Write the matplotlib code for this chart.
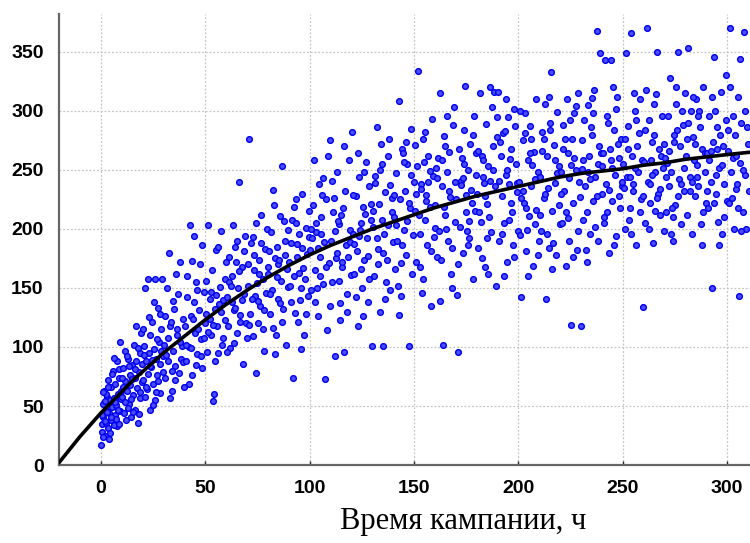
import matplotlib
matplotlib.use("Agg")
import matplotlib.pyplot as plt

# кривая модели
curve_h = [-20, -15, -10, -5, 0, 5, 10, 15, 20, 25, 30, 40, 50, 60, 70, 80, 90, 100, 110, 120,
           130, 140, 150, 160, 170, 180, 190, 200, 210, 220, 230, 240, 250, 260, 270, 280, 290, 300, 311]
curve_v = [2, 13, 24, 34, 44, 53, 62, 71, 79, 87, 95, 109, 123, 136, 148, 159, 169, 178, 186, 193,
           200, 206, 212, 218, 223, 228, 232, 236, 240, 244, 247, 249, 251, 254, 256, 259, 261, 263, 265]

# наблюдения: время кампании, ч (по 10 на строку)
hours = [
    0.2, 0.5, 0.8, 1.0, 1.3, 1.6, 2.0, 2.3, 2.6, 3.0,
    3.3, 3.6, 4.0, 4.3, 4.6, 5.0, 5.3, 5.6, 6.0, 6.3,
    6.6, 7.0, 7.3, 7.6, 8.0, 8.3, 8.6, 9.0, 9.3, 9.6,
    0.4, 1.1, 1.8, 2.5, 3.2, 3.9, 4.7, 5.4, 6.1, 6.8,
    7.5, 8.2, 8.9, 9.6, 0.9, 2.1, 3.5, 4.9, 6.5, 8.7,
    10.2, 10.6, 11.0, 11.4, 11.8, 12.2, 12.6, 13.0, 13.4, 13.8,
    14.2, 14.6, 15.0, 15.4, 15.8, 16.2, 16.6, 17.0, 17.4, 17.8,
    18.2, 18.6, 19.0, 19.4, 19.8, 10.8, 12.9, 14.9, 16.9, 18.9,
    11.6, 13.6, 15.6, 17.6, 19.6, 10.4, 12.4, 14.4, 16.4, 18.4,
    20.2, 20.6, 21.0, 21.4, 21.8, 22.2, 22.6, 23.0, 23.4, 23.8,
    24.2, 24.6, 25.0, 25.4, 25.8, 26.2, 26.6, 27.0, 27.4, 27.8,
    28.2, 28.6, 29.0, 29.4, 29.8, 20.9, 22.9, 24.9, 26.9, 28.9,
    21.6, 23.6, 25.6, 27.6, 29.6, 20.4, 22.4, 24.4, 26.4, 28.4,
    30.3, 30.9, 31.5, 32.1, 32.7, 33.3, 33.9, 34.5, 35.1, 35.7,
    36.3, 36.9, 37.5, 38.1, 38.7, 39.3, 39.9, 31.2, 33.0, 34.8,
    36.6, 38.4, 30.6, 32.4, 34.2, 36.0, 37.8, 39.6, 35.4, 33.6,
    40.3, 40.9, 41.5, 42.1, 42.7, 43.3, 43.9, 44.5, 45.1, 45.7,
    46.3, 46.9, 47.5, 48.1, 48.7, 49.3, 49.9, 41.2, 43.0, 44.8,
    46.6, 48.4, 40.6, 42.4, 44.2, 46.0, 47.8, 49.6, 45.4, 43.6,
    50.3, 50.9, 51.5, 52.1, 52.7, 53.3, 53.9, 54.5, 55.1, 55.7,
    56.3, 56.9, 57.5, 58.1, 58.7, 59.3, 59.9, 51.2, 53.0, 54.8,
    56.6, 58.4, 50.6, 52.4, 54.2, 56.0, 57.8, 59.6, 55.4, 53.6,
    60.3, 60.9, 61.5, 62.1, 62.7, 63.3, 63.9, 64.5, 65.1, 65.7,
    66.3, 66.9, 67.5, 68.1, 68.7, 69.3, 69.9, 61.2, 63.0, 64.8,
    66.6, 68.4, 60.6, 62.4, 64.2, 66.0, 67.8, 69.6, 65.4, 63.6,
    70.3, 70.9, 71.5, 72.1, 72.7, 73.3, 73.9, 74.5, 75.1, 75.7,
    76.3, 76.9, 77.5, 78.1, 78.7, 79.3, 79.9, 71.2, 73.0, 74.8,
    76.6, 78.4, 70.6, 72.4, 74.2, 76.0, 77.8, 79.6, 75.4, 73.6,
    80.3, 80.9, 81.5, 82.1, 82.7, 83.3, 83.9, 84.5, 85.1, 85.7,
    86.3, 86.9, 87.5, 88.1, 88.7, 89.3, 89.9, 81.2, 83.0, 84.8,
    86.6, 88.4, 80.6, 82.4, 84.2, 86.0, 87.8, 89.6, 85.4, 83.6,
    90.3, 90.9, 91.5, 92.1, 92.7, 93.3, 93.9, 94.5, 95.1, 95.7,
    96.3, 96.9, 97.5, 98.1, 98.7, 99.3, 99.9, 91.2, 93.0, 94.8,
    96.6, 98.4, 90.6, 92.4, 94.2, 96.0, 97.8, 99.6, 95.4, 93.6,
    100.3, 100.9, 101.5, 102.1, 102.7, 103.3, 103.9, 104.5, 105.1, 105.7,
    106.3, 106.9, 107.5, 108.1, 108.7, 109.3, 109.9, 101.2, 103.0, 104.8,
    106.6, 108.4, 100.6, 102.4, 104.2, 106.0, 107.8, 109.6, 105.4, 103.6,
    110.3, 110.9, 111.5, 112.1, 112.7, 113.3, 113.9, 114.5, 115.1, 115.7,
    116.3, 116.9, 117.5, 118.1, 118.7, 119.3, 119.9, 111.2, 113.0, 114.8,
    116.6, 118.4, 110.6, 112.4, 114.2, 116.0, 117.8, 119.6, 115.4, 113.6,
    120.3, 120.9, 121.5, 122.1, 122.7, 123.3, 123.9, 124.5, 125.1, 125.7,
    126.3, 126.9, 127.5, 128.1, 128.7, 129.3, 129.9, 121.2, 123.0, 124.8,
    126.6, 128.4, 120.6, 122.4, 124.2, 126.0, 127.8, 129.6, 125.4, 123.6,
    130.3, 130.9, 131.5, 132.1, 132.7, 133.3, 133.9, 134.5, 135.1, 135.7,
    136.3, 136.9, 137.5, 138.1, 138.7, 139.3, 139.9, 131.2, 133.0, 134.8,
    136.6, 138.4, 130.6, 132.4, 134.2, 136.0, 137.8, 139.6, 135.4, 133.6,
    140.3, 140.9, 141.5, 142.1, 142.7, 143.3, 143.9, 144.5, 145.1, 145.7,
    146.3, 146.9, 147.5, 148.1, 148.7, 149.3, 149.9, 141.2, 143.0, 144.8,
    146.6, 148.4, 140.6, 142.4, 144.2, 146.0, 147.8, 149.6, 145.4, 143.6,
    150.3, 150.9, 151.5, 152.1, 152.7, 153.3, 153.9, 154.5, 155.1, 155.7,
    156.3, 156.9, 157.5, 158.1, 158.7, 159.3, 159.9, 151.2, 153.0, 154.8,
    156.6, 158.4, 150.6, 152.4, 154.2, 156.0, 157.8, 159.6, 155.4, 153.6,
    160.3, 160.9, 161.5, 162.1, 162.7, 163.3, 163.9, 164.5, 165.1, 165.7,
    166.3, 166.9, 167.5, 168.1, 168.7, 169.3, 169.9, 161.2, 163.0, 164.8,
    166.6, 168.4, 160.6, 162.4, 164.2, 166.0, 167.8, 169.6, 165.4, 163.6,
    170.3, 170.9, 171.5, 172.1, 172.7, 173.3, 173.9, 174.5, 175.1, 175.7,
    176.3, 176.9, 177.5, 178.1, 178.7, 179.3, 179.9, 171.2, 173.0, 174.8,
    176.6, 178.4, 170.6, 172.4, 174.2, 176.0, 177.8, 179.6, 175.4, 173.6,
    180.3, 180.9, 181.5, 182.1, 182.7, 183.3, 183.9, 184.5, 185.1, 185.7,
    186.3, 186.9, 187.5, 188.1, 188.7, 189.3, 189.9, 181.2, 183.0, 184.8,
    186.6, 188.4, 180.6, 182.4, 184.2, 186.0, 187.8, 189.6, 185.4, 183.6,
    190.3, 190.9, 191.5, 192.1, 192.7, 193.3, 193.9, 194.5, 195.1, 195.7,
    196.3, 196.9, 197.5, 198.1, 198.7, 199.3, 199.9, 191.2, 193.0, 194.8,
    196.6, 198.4, 190.6, 192.4, 194.2, 196.0, 197.8, 199.6, 195.4, 193.6,
    200.3, 200.9, 201.5, 202.1, 202.7, 203.3, 203.9, 204.5, 205.1, 205.7,
    206.3, 206.9, 207.5, 208.1, 208.7, 209.3, 209.9, 201.2, 203.0, 204.8,
    206.6, 208.4, 200.6, 202.4, 204.2, 206.0, 207.8, 209.6, 205.4, 203.6,
    210.3, 210.9, 211.5, 212.1, 212.7, 213.3, 213.9, 214.5, 215.1, 215.7,
    216.3, 216.9, 217.5, 218.1, 218.7, 219.3, 219.9, 211.2, 213.0, 214.8,
    216.6, 218.4, 210.6, 212.4, 214.2, 216.0, 217.8, 219.6, 215.4, 213.6,
    220.3, 220.9, 221.5, 222.1, 222.7, 223.3, 223.9, 224.5, 225.1, 225.7,
    226.3, 226.9, 227.5, 228.1, 228.7, 229.3, 229.9, 221.2, 223.0, 224.8,
    226.6, 228.4, 220.6, 222.4, 224.2, 226.0, 227.8, 229.6, 225.4, 223.6,
    230.3, 230.9, 231.5, 232.1, 232.7, 233.3, 233.9, 234.5, 235.1, 235.7,
    236.3, 236.9, 237.5, 238.1, 238.7, 239.3, 239.9, 231.2, 233.0, 234.8,
    236.6, 238.4, 230.6, 232.4, 234.2, 236.0, 237.8, 239.6, 235.4, 233.6,
    240.3, 240.9, 241.5, 242.1, 242.7, 243.3, 243.9, 244.5, 245.1, 245.7,
    246.3, 246.9, 247.5, 248.1, 248.7, 249.3, 249.9, 241.2, 243.0, 244.8,
    246.6, 248.4, 240.6, 242.4, 244.2, 246.0, 247.8, 249.6, 245.4, 243.6,
    250.3, 250.9, 251.5, 252.1, 252.7, 253.3, 253.9, 254.5, 255.1, 255.7,
    256.3, 256.9, 257.5, 258.1, 258.7, 259.3, 259.9, 251.2, 253.0, 254.8,
    256.6, 258.4, 250.6, 252.4, 254.2, 256.0, 257.8, 259.6, 255.4, 253.6,
    260.3, 260.9, 261.5, 262.1, 262.7, 263.3, 263.9, 264.5, 265.1, 265.7,
    266.3, 266.9, 267.5, 268.1, 268.7, 269.3, 269.9, 261.2, 263.0, 264.8,
    266.6, 268.4, 260.6, 262.4, 264.2, 266.0, 267.8, 269.6, 265.4, 263.6,
    270.3, 270.9, 271.5, 272.1, 272.7, 273.3, 273.9, 274.5, 275.1, 275.7,
    276.3, 276.9, 277.5, 278.1, 278.7, 279.3, 279.9, 271.2, 273.0, 274.8,
    276.6, 278.4, 270.6, 272.4, 274.2, 276.0, 277.8, 279.6, 275.4, 273.6,
    280.3, 280.9, 281.5, 282.1, 282.7, 283.3, 283.9, 284.5, 285.1, 285.7,
    286.3, 286.9, 287.5, 288.1, 288.7, 289.3, 289.9, 281.2, 283.0, 284.8,
    286.6, 288.4, 280.6, 282.4, 284.2, 286.0, 287.8, 289.6, 285.4, 283.6,
    290.3, 290.9, 291.5, 292.1, 292.7, 293.3, 293.9, 294.5, 295.1, 295.7,
    296.3, 296.9, 297.5, 298.1, 298.7, 299.3, 299.9, 291.2, 293.0, 294.8,
    296.6, 298.4, 290.6, 292.4, 294.2, 296.0, 297.8, 299.6, 295.4, 293.6,
    300.3, 300.9, 301.5, 302.1, 302.7, 303.3, 303.9, 304.5, 305.1, 305.7,
    306.3, 306.9, 307.5, 308.1, 308.7, 309.3, 309.9, 310.5, 301.2, 303.0,
    304.8, 306.6, 308.4, 300.6, 302.4, 304.2, 306.0, 307.8, 309.6, 305.4,
]

# наблюдения: значение
values = [
    17, 35, 28, 52, 41, 63, 25, 47, 36, 58,
    31, 72, 44, 55, 27, 66, 49, 38, 80, 57,
    42, 69, 51, 33, 88, 60, 74, 46, 104, 63,
    42, 24, 37, 60, 45, 22, 38, 77, 34, 53,
    39, 47, 81, 56, 62, 54, 66, 41, 91, 35,
    58, 82, 44, 97, 71, 38, 63, 90, 52, 76,
    68, 41, 85, 59, 102, 74, 47, 88, 65, 36,
    79, 95, 57, 112, 70, 66, 48, 73, 118, 62,
    53, 84, 45, 99, 86, 74, 92, 56, 81, 43,
    72, 101, 58, 150, 88, 64, 158, 95, 47, 110,
    83, 121, 69, 98, 55, 158, 90, 76, 133, 104,
    86, 61, 115, 158, 79, 93, 125, 51, 107, 97,
    66, 84, 138, 71, 92, 115, 77, 89, 62, 128,
    102, 74, 150, 88, 180, 118, 63, 97, 132, 84,
    110, 145, 78, 172, 101, 124, 66, 93, 57, 139,
    115, 90, 126, 108, 80, 162, 104, 87, 72, 121,
    118, 88, 142, 100, 203, 126, 76, 194, 112, 155,
    94, 131, 170, 107, 82, 147, 120, 160, 99, 138,
    115, 186, 102, 69, 124, 148, 92, 108, 85, 173,
    128, 96, 203, 141, 110, 165, 54, 132, 182, 118,
    185, 151, 198, 102, 140, 123, 172, 113, 147, 88,
    136, 108, 156, 124, 60, 95, 130, 158, 144, 119,
    142, 118, 176, 99, 160, 203, 131, 185, 112, 150,
    240, 127, 168, 86, 145, 194, 108, 155, 138, 172,
    121, 181, 96, 152, 133, 164, 140, 120, 190, 103,
    152, 276, 128, 188, 109, 165, 143, 205, 120, 174,
    135, 212, 158, 97, 183, 146, 168, 119, 193, 154,
    188, 131, 170, 141, 78, 162, 115, 200, 139, 178,
    162, 128, 197, 148, 233, 175, 110, 185, 141, 211,
    156, 253, 132, 178, 102, 166, 199, 145, 220, 170,
    121, 190, 181, 116, 159, 137, 207, 151, 174, 94,
    172, 138, 208, 74, 160, 225, 187, 121, 196, 150,
    230, 167, 110, 201, 179, 143, 215, 188, 129, 163,
    184, 128, 152, 219, 176, 98, 158, 193, 140, 205,
    182, 148, 220, 258, 165, 197, 126, 238, 176, 210,
    153, 189, 73, 225, 262, 171, 135, 192, 205, 160,
    243, 114, 200, 138, 184, 229, 168, 275, 196, 150,
    190, 155, 226, 92, 175, 248, 204, 137, 212, 168,
    96, 232, 186, 145, 258, 199, 161, 214, 180, 123,
    270, 176, 241, 198, 156, 218, 130, 189, 172, 207,
    282, 196, 162, 228, 181, 118, 244, 205, 150, 219,
    174, 257, 192, 138, 236, 208, 101, 187, 264, 166,
    213, 158, 229, 142, 199, 248, 177, 221, 126, 194,
    202, 160, 239, 286, 183, 221, 130, 255, 101, 196,
    231, 174, 262, 276, 148, 214, 189, 245, 170, 208,
    155, 237, 215, 192, 272, 141, 203, 226, 180, 250,
    210, 166, 247, 190, 308, 225, 143, 268, 199, 232,
    178, 255, 101, 218, 285, 162, 240, 203, 127, 264,
    207, 246, 229, 152, 186, 274, 222, 195, 257, 171,
    215, 172, 253, 334, 196, 238, 146, 276, 208, 229,
    186, 262, 219, 135, 293, 245, 201, 230, 168, 257,
    240, 181, 271, 212, 158, 224, 249, 193, 282, 234,
    220, 176, 260, 198, 315, 236, 102, 279, 212, 248,
    190, 265, 227, 150, 288, 303, 206, 243, 174, 270,
    232, 184, 252, 139, 219, 296, 162, 240, 200, 258,
    225, 96, 268, 202, 241, 180, 284, 321, 214, 250,
    192, 272, 233, 158, 296, 215, 246, 170, 260, 229,
    207, 280, 144, 237, 255, 186, 222, 264, 198, 243,
    230, 184, 315, 206, 262, 244, 168, 289, 221, 253,
    320, 197, 303, 270, 236, 152, 278, 214, 258, 192,
    241, 316, 266, 175, 228, 210, 250, 295, 162, 239,
    316, 190, 262, 228, 281, 205, 246, 172, 295, 238,
    268, 214, 186, 302, 255, 231, 198, 274, 160, 250,
    222, 287, 241, 196, 310, 259, 176, 239, 208, 283,
    240, 195, 142, 275, 222, 298, 181, 258, 211, 287,
    236, 169, 265, 204, 310, 248, 190, 226, 281, 160,
    254, 216, 300, 232, 199, 276, 242, 178, 264, 218,
    244, 198, 282, 226, 306, 141, 262, 184, 290, 333,
    215, 271, 239, 178, 299, 253, 204, 266, 230, 312,
    188, 247, 212, 276, 235, 166, 258, 220, 284, 196,
    248, 205, 288, 232, 169, 310, 264, 190, 119, 276,
    222, 298, 250, 182, 315, 240, 118, 268, 214, 292,
    260, 198, 230, 276, 243, 176, 304, 227, 254, 209,
    251, 208, 292, 236, 172, 305, 262, 196, 280, 224,
    318, 244, 368, 190, 270, 349, 230, 258, 214, 286,
    202, 255, 275, 182, 242, 298, 228, 264, 311, 248,
    253, 210, 343, 238, 296, 180, 268, 343, 224, 284,
    246, 194, 312, 260, 218, 276, 236, 205, 290, 252,
    302, 228, 264, 214, 258, 186, 272, 240, 320, 233,
    255, 200, 349, 244, 287, 218, 366, 262, 232, 300,
    186, 270, 248, 310, 225, 258, 134, 276, 208, 238,
    292, 214, 235, 268, 196, 252, 281, 228, 315, 244,
    257, 205, 370, 240, 292, 222, 274, 188, 306, 248,
    350, 230, 268, 212, 296, 252, 198, 318, 238, 280,
    226, 262, 284, 200, 246, 314, 234, 272, 215, 258,
    260, 214, 296, 236, 328, 248, 190, 280, 220, 306,
    350, 242, 270, 204, 288, 232, 315, 256, 196, 274,
    228, 300, 244, 266, 210, 284, 238, 252, 320, 218,
    262, 212, 353, 244, 300, 196, 278, 228, 310, 254,
    236, 286, 204, 268, 320, 248, 222, 290, 240, 272,
    300, 214, 276, 232, 258, 296, 186, 264, 244, 312,
    264, 218, 296, 240, 150, 274, 346, 230, 286, 206,
    252, 316, 196, 270, 238, 292, 224, 258, 312, 246,
    280, 210, 232, 266, 300, 186, 254, 330, 268, 222,
    266, 222, 370, 248, 296, 200, 280, 234, 312, 143,
    256, 290, 214, 367, 246, 200, 272, 232, 320, 260,
    238, 198, 300, 284, 226, 262, 344, 250, 286, 218,
]

x_ticks = [0, 50, 100, 150, 200, 250, 300]
y_ticks = [0, 50, 100, 150, 200, 250, 300, 350]

fig = plt.figure(figsize=(7.5, 5.43), dpi=100)
ax = fig.add_axes([0.0787, 0.1436, 0.9213, 0.8304])

ax.scatter(hours, values, s=17, marker='o', facecolor='#4a4aff',
           edgecolor='#0000f0', linewidths=1.0, zorder=3, clip_on=True)
ax.plot(curve_h, curve_v, color='black', lw=2.6, zorder=4, solid_capstyle='round')

ax.set_xlim(-20, 311)
ax.set_ylim(0, 382)
ax.set_xticks(x_ticks)
ax.set_yticks(y_ticks)
ax.grid(True, color='#c4c4c4', linestyle=(0, (1.5, 1.5)), linewidth=0.9, zorder=0)

for side in ['top', 'right']:
    ax.spines[side].set_visible(False)
for side in ['left', 'bottom']:
    ax.spines[side].set_color('#666666')
    ax.spines[side].set_linewidth(1.6)

ax.tick_params(axis='both', direction='in', length=3, width=1, color='#222222',
               labelsize=14, pad=11)
ax.tick_params(axis='y', length=0, pad=11)
for lab in ax.get_xticklabels() + ax.get_yticklabels():
    lab.set_fontfamily('Liberation Sans')
    lab.set_fontweight('bold')

fig.text(463 / 750, 1 - 521 / 543, 'Время кампании, ч', family='Liberation Serif',
         fontsize=22, ha='center', va='center')

fig.savefig('out.png', dpi=100)
